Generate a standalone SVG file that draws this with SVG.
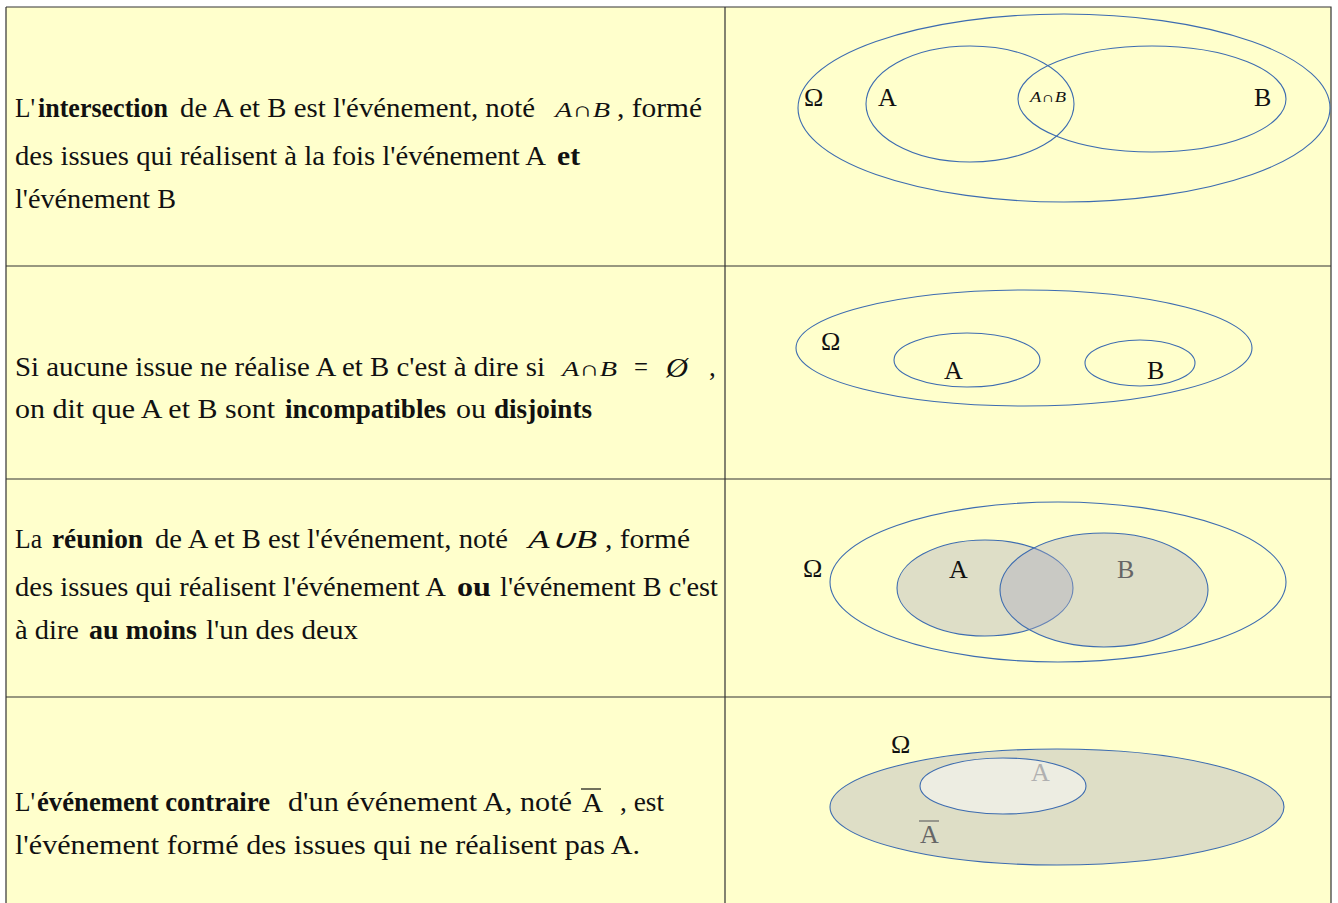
<svg xmlns="http://www.w3.org/2000/svg" width="1338" height="903" viewBox="0 0 1338 903">
<style>
.t{font-size:27px;fill:#111}
.b{font-weight:bold}
.m{font-style:italic;font-size:21px;fill:#111}
.v{font-size:26px;fill:#111}
.e{fill:none;stroke:#3d6cb0;stroke-width:1.1}
.grid{stroke:#333;stroke-width:1.2;fill:none}
</style>
<rect x="0" y="0" width="1338" height="903" fill="#ffffff"/>
<rect x="6" y="7" width="1325" height="900" fill="#ffffcc"/>
<g id="table">
<path class="grid" d="M6 7H1331V910M6 7V910M725 7V910M6 266H1331M6 479H1331M6 697H1331"/>
</g>
<g id="connectors"/>
<g font-family="Liberation Serif, Times New Roman, serif">
<g id="row1-text">
<text class="t" x="15" y="117" textLength="20" lengthAdjust="spacingAndGlyphs">L'</text>
<text class="t b" x="38" y="117" textLength="130" lengthAdjust="spacingAndGlyphs">intersection</text>
<text class="t" x="180" y="117" textLength="355" lengthAdjust="spacingAndGlyphs">de A et B est l'événement, noté</text>
<text class="m" x="555" y="117" textLength="55" lengthAdjust="spacingAndGlyphs">A∩B</text>
<text class="t" x="617" y="117" textLength="85" lengthAdjust="spacingAndGlyphs">, formé</text>
<text class="t" x="15" y="165" textLength="531" lengthAdjust="spacingAndGlyphs">des issues qui réalisent à la fois l'événement A</text>
<text class="t b" x="557" y="165" textLength="23" lengthAdjust="spacingAndGlyphs">et</text>
<text class="t" x="15" y="208" textLength="161" lengthAdjust="spacingAndGlyphs">l'événement B</text>
</g>
<g id="row1-venn">
<ellipse class="e" cx="1064" cy="108" rx="266" ry="94"/>
<ellipse class="e" cx="970" cy="104" rx="104" ry="58"/>
<ellipse class="e" cx="1152" cy="99" rx="134" ry="53"/>
<text class="v" x="804" y="106">Ω</text>
<text class="v" x="878" y="106">A</text>
<text class="m" x="1030" y="102" style="font-size:14px" textLength="36" lengthAdjust="spacingAndGlyphs">A∩B</text>
<text class="v" x="1254" y="106">B</text>
</g>
<g id="row2-text">
<text class="t" x="15" y="376" textLength="530" lengthAdjust="spacingAndGlyphs">Si aucune issue ne réalise A et B c'est à dire si</text>
<text class="m" x="562" y="376" textLength="55" lengthAdjust="spacingAndGlyphs">A∩B</text>
<text class="t" x="634" y="376" textLength="14" lengthAdjust="spacingAndGlyphs">=</text>
<text class="m" x="666" y="377" style="font-size:27px" textLength="22" lengthAdjust="spacingAndGlyphs">Ø</text>
<text class="t" x="709" y="376">,</text>
<text class="t" x="15" y="418" textLength="260" lengthAdjust="spacingAndGlyphs">on dit que A et B sont</text>
<text class="t b" x="285" y="418" textLength="161" lengthAdjust="spacingAndGlyphs">incompatibles</text>
<text class="t" x="456" y="418" textLength="30" lengthAdjust="spacingAndGlyphs">ou</text>
<text class="t b" x="494" y="418" textLength="98" lengthAdjust="spacingAndGlyphs">disjoints</text>
</g>
<g id="row2-venn">
<ellipse class="e" cx="1024" cy="348" rx="228" ry="58"/>
<ellipse class="e" cx="967" cy="360" rx="73" ry="27"/>
<ellipse class="e" cx="1140" cy="363" rx="55" ry="23"/>
<text class="v" x="821" y="350">Ω</text>
<text class="v" x="944" y="379">A</text>
<text class="v" x="1147" y="379">B</text>
</g>
<g id="row3-text">
<text class="t" x="15" y="548" textLength="27" lengthAdjust="spacingAndGlyphs">La</text>
<text class="t b" x="52" y="548" textLength="91" lengthAdjust="spacingAndGlyphs">réunion</text>
<text class="t" x="155" y="548" textLength="353" lengthAdjust="spacingAndGlyphs">de A et B est l'événement, noté</text>
<text class="m" x="528" y="548" style="font-size:26px" textLength="69" lengthAdjust="spacingAndGlyphs">A∪B</text>
<text class="t" x="605" y="548" textLength="85" lengthAdjust="spacingAndGlyphs">, formé</text>
<text class="t" x="15" y="596" textLength="431" lengthAdjust="spacingAndGlyphs">des issues qui réalisent l'événement A</text>
<text class="t b" x="457" y="596" textLength="34" lengthAdjust="spacingAndGlyphs">ou</text>
<text class="t" x="500" y="596" textLength="218" lengthAdjust="spacingAndGlyphs">l'événement B c'est</text>
<text class="t" x="15" y="639" textLength="64" lengthAdjust="spacingAndGlyphs">à dire</text>
<text class="t b" x="89" y="639" textLength="108" lengthAdjust="spacingAndGlyphs">au moins</text>
<text class="t" x="206" y="639" textLength="152" lengthAdjust="spacingAndGlyphs">l'un des deux</text>
</g>
<g id="row3-venn">
<ellipse class="e" cx="1058" cy="582" rx="228" ry="80"/>
<ellipse cx="985" cy="588" rx="88" ry="48" fill="#a9a9bf" fill-opacity="0.38" stroke="#3d6cb0" stroke-width="1.1"/>
<ellipse cx="1104" cy="590" rx="104" ry="57" fill="#a9a9bf" fill-opacity="0.38" stroke="#3d6cb0" stroke-width="1.1"/>
<text class="v" x="803" y="577">Ω</text>
<text class="v" x="949" y="578">A</text>
<text class="v" x="1117" y="578" style="fill:#666">B</text>
</g>
<g id="row4-text">
<text class="t" x="15" y="811" textLength="20" lengthAdjust="spacingAndGlyphs">L'</text>
<text class="t b" x="37" y="811" textLength="233" lengthAdjust="spacingAndGlyphs">événement contraire</text>
<text class="t" x="288" y="811" textLength="284" lengthAdjust="spacingAndGlyphs">d'un événement A, noté</text>
<text class="t" x="582" y="812" style="font-size:27px" textLength="21" lengthAdjust="spacingAndGlyphs">A</text>
<line x1="581" y1="789" x2="601" y2="789" stroke="#111" stroke-width="1.2"/>
<text class="t" x="620" y="811" textLength="44" lengthAdjust="spacingAndGlyphs">, est</text>
<text class="t" x="15" y="854" textLength="625" lengthAdjust="spacingAndGlyphs">l'événement formé des issues qui ne réalisent pas A.</text>
</g>
<g id="row4-venn">
<ellipse cx="1057" cy="807" rx="227" ry="58" fill="#dedec6" stroke="#3d6cb0" stroke-width="1.1"/>
<ellipse cx="1003" cy="786" rx="83" ry="28" fill="#ededE2" stroke="#3d6cb0" stroke-width="1.1"/>
<text class="v" x="891" y="753">Ω</text>
<text class="v" x="1031" y="781" style="fill:#b0b0b0">A</text>
<text class="v" x="920" y="843" style="fill:#666">A</text>
<line x1="919" y1="821" x2="939" y2="821" stroke="#666" stroke-width="1.2"/>
</g>
</g>
</svg>
